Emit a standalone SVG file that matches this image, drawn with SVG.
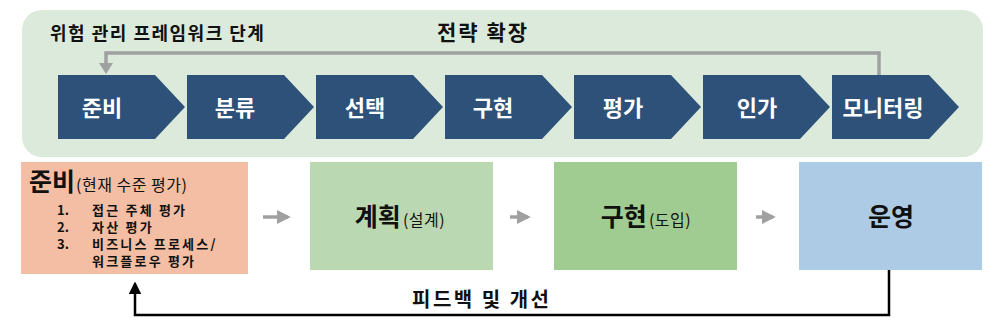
<svg xmlns="http://www.w3.org/2000/svg" width="1005" height="333" viewBox="0 0 1005 333">
<style>
text{font-family:"Noto Sans CJK KR","Noto Sans",sans-serif;}
.chev{fill:#2d5178;}
.ct{fill:#ffffff;font-size:22px;font-weight:bold;text-anchor:middle;}
.big{font-size:25px;font-weight:bold;fill:#111;}
.sm{font-size:16px;fill:#111;letter-spacing:0.5px;}
.li{font-size:13px;font-weight:bold;fill:#111;letter-spacing:2.2px;}
.num{font-size:13px;font-weight:bold;fill:#111;}
.g{stroke:#a0a0a0;stroke-width:3.5;fill:none;}
</style>
<defs>
<marker id="ga" markerWidth="4" markerHeight="4" refX="3.2" refY="2" orient="auto" markerUnits="strokeWidth"><path d="M0,0 L4,2 L0,4 Z" fill="#a0a0a0"/></marker>
<marker id="ba" markerWidth="5" markerHeight="5" refX="4" refY="2.5" orient="auto" markerUnits="strokeWidth"><path d="M0,0 L5,2.5 L0,5 Z" fill="#000"/></marker>
</defs>
<rect width="1005" height="333" fill="#ffffff"/>
<g id="panel">
<rect x="22" y="10" width="961" height="147" rx="20" fill="#dbeada"/>
<text x="50" y="40" font-size="18" font-weight="bold" fill="#111" letter-spacing="1.5">위험 관리 프레임워크 단계</text>
<text x="437" y="40" font-size="21" font-weight="bold" fill="#111" letter-spacing="2">전략 확장</text>
</g>
<g id="chevrons">
<g id="c1"><path class="chev" d="M58,75 H155 L185,107 L155,139 H58 Z"/><text class="ct" x="102" y="116">준비</text></g>
<g id="c2"><path class="chev" d="M187,75 H284 L314,107 L284,139 H187 Z"/><text class="ct" x="235" y="116">분류</text></g>
<g id="c3"><path class="chev" d="M316,75 H413 L443,107 L413,139 H316 Z"/><text class="ct" x="365" y="116">선택</text></g>
<g id="c4"><path class="chev" d="M445,75 H542 L572,107 L542,139 H445 Z"/><text class="ct" x="493" y="116">구현</text></g>
<g id="c5"><path class="chev" d="M574,75 H671 L701,107 L671,139 H574 Z"/><text class="ct" x="623" y="116">평가</text></g>
<g id="c6"><path class="chev" d="M703,75 H800 L830,107 L800,139 H703 Z"/><text class="ct" x="757" y="116">인가</text></g>
<g id="c7"><path class="chev" d="M832,75 H929 L959,107 L929,139 H832 Z"/><text class="ct" x="883" y="116">모니터링</text></g>
</g>
<g id="n-prep">
<rect x="21" y="162" width="227" height="112" fill="#f3bea3"/>
<text x="29" y="191"><tspan class="big" font-size="26">준비</tspan><tspan class="sm" font-size="17" dx="1">(현재 수준 평가)</tspan></text>
<text class="num" x="57" y="215">1.</text><text class="li" x="92" y="215">접근 주체 평가</text>
<text class="num" x="57" y="232">2.</text><text class="li" x="92" y="232">자산 평가</text>
<text class="num" x="57" y="249">3.</text><text class="li" x="92" y="249">비즈니스 프로세스/</text>
<text class="li" x="92" y="266">워크플로우 평가</text>
</g>
<g id="n-plan">
<rect x="310" y="162" width="183" height="108" fill="#bad9b2"/>
<text x="400" y="226" text-anchor="middle"><tspan class="big">계획</tspan><tspan class="sm" dx="2">(설계)</tspan></text>
</g>
<g id="n-impl">
<rect x="554" y="162" width="183" height="108" fill="#a0cb91"/>
<text x="646" y="226" text-anchor="middle"><tspan class="big">구현</tspan><tspan class="sm" dx="2">(도입)</tspan></text>
</g>
<g id="n-ops">
<rect x="799" y="162" width="183" height="108" fill="#aecbe5"/>
<text x="891" y="226" text-anchor="middle" class="big">운영</text>
</g>
<g id="connectors">
<path class="g" d="M879,75 V53 H106 V64"/>
<path d="M99,63 L113,63 L106,74 Z" fill="#a0a0a0"/>
<path class="g" d="M263,217 H288" marker-end="url(#ga)"/>
<path class="g" d="M510,217 H528" marker-end="url(#ga)"/>
<path class="g" d="M756,217 H773" marker-end="url(#ga)"/>
<path d="M889,270 V315 H135 V284" stroke="#000" stroke-width="2.5" fill="none" marker-end="url(#ba)"/>
<text x="412" y="307" font-size="20" font-weight="bold" fill="#111" letter-spacing="2.5">피드백 및 개선</text>
</g>
</svg>
